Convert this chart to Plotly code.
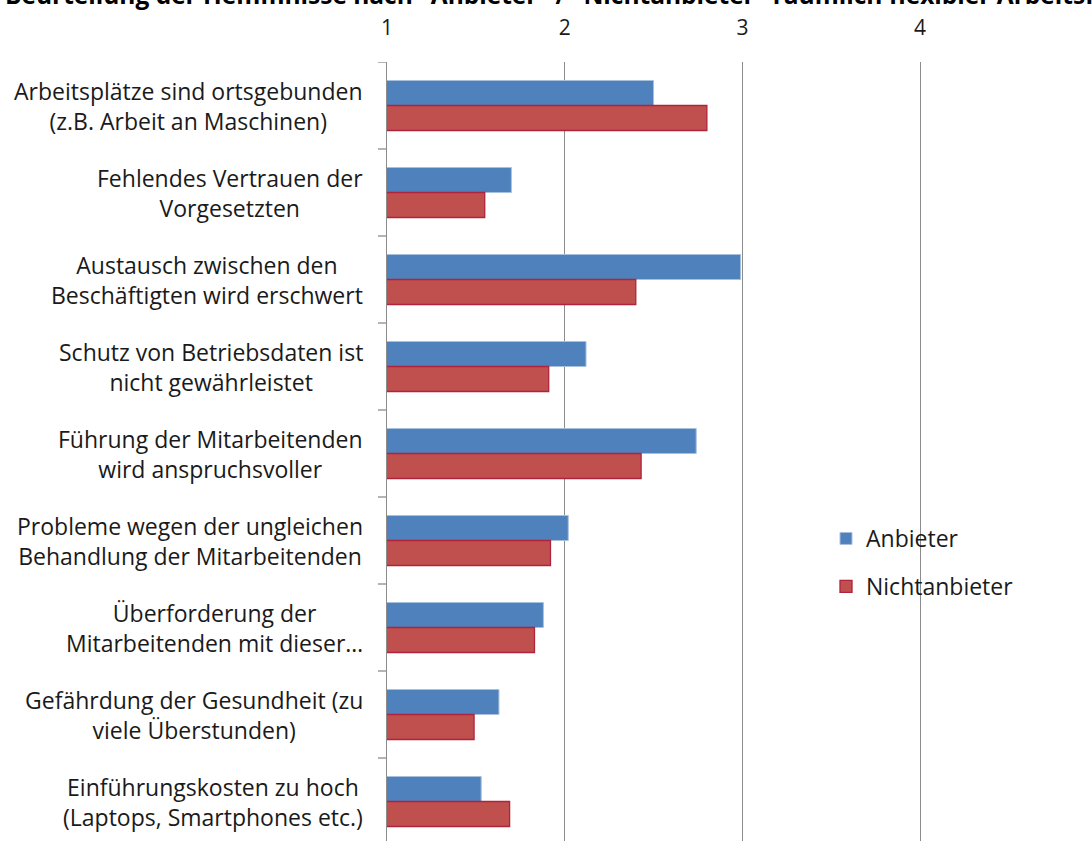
import plotly.graph_objects as go

categories = [
    "Arbeitsplätze sind ortsgebunden<br>(z.B. Arbeit an Maschinen)",
    "Fehlendes Vertrauen der<br>Vorgesetzten",
    "Austausch zwischen den<br>Beschäftigten wird erschwert",
    "Schutz von Betriebsdaten ist<br>nicht gewährleistet",
    "Führung der Mitarbeitenden<br>wird anspruchsvoller",
    "Probleme wegen der ungleichen<br>Behandlung der Mitarbeitenden",
    "Überforderung der<br>Mitarbeitenden mit dieser…",
    "Gefährdung der Gesundheit (zu<br>viele Überstunden)",
    "Einführungskosten zu hoch<br>(Laptops, Smartphones etc.)",
]
anbieter = [2.50, 1.70, 2.99, 2.12, 2.74, 2.02, 1.88, 1.63, 1.53]
nichtanbieter = [2.80, 1.55, 2.40, 1.91, 2.43, 1.92, 1.83, 1.49, 1.69]
x_ticks = [1, 2, 3, 4]
title_text = 'Beurteilung der Hemmnisse nach "Anbieter" / "Nichtanbieter" räumlich flexibler Arbeitsformen'

FONT = "Open Sans"
W, H = 1092, 841
ML, MT = 387, 62

fig = go.Figure()
fig.add_trace(go.Bar(
    y=list(range(len(categories))), x=anbieter, orientation="h", name="Anbieter",
    marker=dict(color="#4F81BD", line=dict(color="#A7C0DE", width=1)),
    legendgroup="a",
))
fig.add_trace(go.Bar(
    y=list(range(len(categories))), x=nichtanbieter, orientation="h", name="Nichtanbieter",
    marker=dict(color="#C0504D", line=dict(color="#B0233C", width=1.3)),
    legendgroup="b",
))

plot_h = H - MT
n = len(categories)
cat_px = 87
bottom = -0.5 + plot_h / cat_px

annotations = []
for i, c in enumerate(categories):
    annotations.append(dict(
        text=c, x=-22 / (W - ML), xref="paper", y=i, yref="y",
        xanchor="right", yanchor="middle", align="center", showarrow=False,
        font=dict(family=FONT, size=23, color="#1a1a1a"),
    ))
annotations.append(dict(
    text="<b>" + title_text + "</b>", xref="paper", yref="paper",
    x=-ML / (W - ML), y=1, xanchor="left", yanchor="bottom", yshift=49, xshift=3,
    showarrow=False, align="left",
    font=dict(family=FONT, size=24.5, color="#000000"),
))

fig.update_layout(
    width=W, height=H,
    margin=dict(l=ML, r=0, t=MT, b=0, pad=0),
    plot_bgcolor="white", paper_bgcolor="white",
    barmode="group", bargap=0.425, bargroupgap=0,
    font=dict(family=FONT, size=20, color="#1a1a1a"),
    xaxis=dict(
        side="top", range=[1, 1 + (W - ML) / 177.7],
        tickvals=x_ticks, ticktext=[str(v) for v in x_ticks],
        showgrid=True, gridcolor="#8C8C8C", gridwidth=1.3,
        zeroline=False, showline=False, ticks="", ticklabelstandoff=22,
        tickfont=dict(family=FONT, size=21, color="#1a1a1a"),
    ),
    yaxis=dict(
        range=[bottom, -0.5], tickvals=list(range(n)), showticklabels=False,
        showgrid=False, zeroline=False, showline=True, linecolor="#8C8C8C", linewidth=1.3,
        ticks="",
    ),
    legend=dict(
        x=(826 - ML) / (W - ML), y=(H - 517) / plot_h, xanchor="left", yanchor="top",
        bgcolor="rgba(0,0,0,0)", font=dict(family=FONT, size=23, color="#1a1a1a"),
        tracegroupgap=15, itemwidth=30,
    ),
    annotations=annotations,
    showlegend=True,
)

# boundary tick marks on the category axis
shapes = []
for k in range(n + 1):
    yb = k - 0.5
    shapes.append(dict(type="line", xref="paper", yref="y", x0=-9 / (W - ML), x1=0,
                       y0=yb, y1=yb, line=dict(color="#8C8C8C", width=1.3)))
fig.update_layout(shapes=shapes)

fig.write_html(
    "out.html",
    config={"displayModeBar": False},
    post_script="document.body.style.margin='0';document.body.style.overflow='hidden';",
)
